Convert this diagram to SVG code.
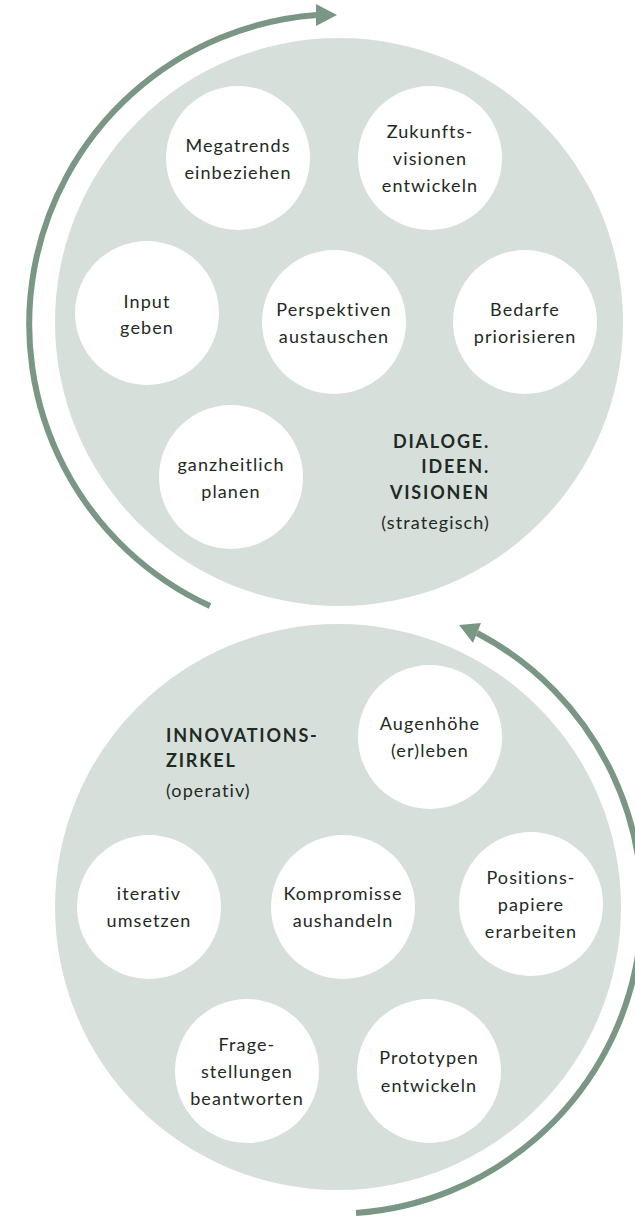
<svg xmlns="http://www.w3.org/2000/svg" width="635" height="1216" viewBox="0 0 635 1216">
<style>
.big{fill:#d7dfda}
.node{fill:#ffffff}
.t{font-family:Lato,"Noto Sans",sans-serif;font-size:18px;fill:#1e2a24;letter-spacing:1.1px;text-anchor:middle}
.h{font-family:Lato,"Noto Sans",sans-serif;font-size:18px;font-weight:bold;fill:#1e2a24;letter-spacing:1.8px}
.s{font-family:Lato,"Noto Sans",sans-serif;font-size:18px;fill:#1e2a24;letter-spacing:1.1px}
.arc{fill:none;stroke:#7a9684;stroke-width:6}
.head{fill:#7a9684}
</style>
<rect width="635" height="1216" fill="#ffffff"/>
<g id="zone-strategisch">
<circle class="big" cx="339" cy="322" r="284"/>
<text class="h" x="490" y="448" text-anchor="end">DIALOGE.</text>
<text class="h" x="490" y="473" text-anchor="end">IDEEN.</text>
<text class="h" x="490" y="499" text-anchor="end">VISIONEN</text>
<text class="s" x="490" y="529" text-anchor="end">(strategisch)</text>
</g>
<g id="zone-operativ">
<circle class="big" cx="338" cy="907" r="283"/>
<text class="h" x="166" y="742">INNOVATIONS-</text>
<text class="h" x="166" y="767">ZIRKEL</text>
<text class="s" x="166" y="797">(operativ)</text>
</g>
<g id="connectors">
<path class="arc" d="M 210 606 A 310 310 0 0 1 317 15"/>
<polygon class="head" points="316,4 337,15 316,26"/>
<path class="arc" d="M 477 633 A 308 308 0 0 1 356 1213"/>
<polygon class="head" points="459,625 481,623 473,643"/>
</g>
<g id="n-megatrends"><circle class="node" cx="238" cy="158" r="72"/><text class="t" x="238" y="152">Megatrends</text><text class="t" x="238" y="179">einbeziehen</text></g>
<g id="n-zukunft"><circle class="node" cx="430" cy="158" r="72"/><text class="t" x="430" y="138">Zukunfts-</text><text class="t" x="430" y="165">visionen</text><text class="t" x="430" y="192">entwickeln</text></g>
<g id="n-input"><circle class="node" cx="147" cy="313" r="72"/><text class="t" x="147" y="308">Input</text><text class="t" x="147" y="334">geben</text></g>
<g id="n-perspektiven"><circle class="node" cx="334" cy="322" r="72"/><text class="t" x="334" y="316">Perspektiven</text><text class="t" x="334" y="343">austauschen</text></g>
<g id="n-bedarfe"><circle class="node" cx="525" cy="322" r="72"/><text class="t" x="525" y="316">Bedarfe</text><text class="t" x="525" y="343">priorisieren</text></g>
<g id="n-ganzheitlich"><circle class="node" cx="231" cy="477" r="72"/><text class="t" x="231" y="471">ganzheitlich</text><text class="t" x="231" y="498">planen</text></g>
<g id="n-augenhoehe"><circle class="node" cx="430" cy="737" r="72"/><text class="t" x="430" y="730">Augenhöhe</text><text class="t" x="430" y="757">(er)leben</text></g>
<g id="n-iterativ"><circle class="node" cx="149" cy="907" r="72"/><text class="t" x="149" y="900">iterativ</text><text class="t" x="149" y="927">umsetzen</text></g>
<g id="n-kompromisse"><circle class="node" cx="343" cy="907" r="72"/><text class="t" x="343" y="900">Kompromisse</text><text class="t" x="343" y="927">aushandeln</text></g>
<g id="n-positions"><circle class="node" cx="531" cy="904" r="72"/><text class="t" x="531" y="884">Positions-</text><text class="t" x="531" y="911">papiere</text><text class="t" x="531" y="938">erarbeiten</text></g>
<g id="n-frage"><circle class="node" cx="247" cy="1071" r="72"/><text class="t" x="247" y="1051">Frage-</text><text class="t" x="247" y="1078">stellungen</text><text class="t" x="247" y="1105">beantworten</text></g>
<g id="n-prototypen"><circle class="node" cx="429" cy="1071" r="72"/><text class="t" x="429" y="1064">Prototypen</text><text class="t" x="429" y="1092">entwickeln</text></g>
</svg>
